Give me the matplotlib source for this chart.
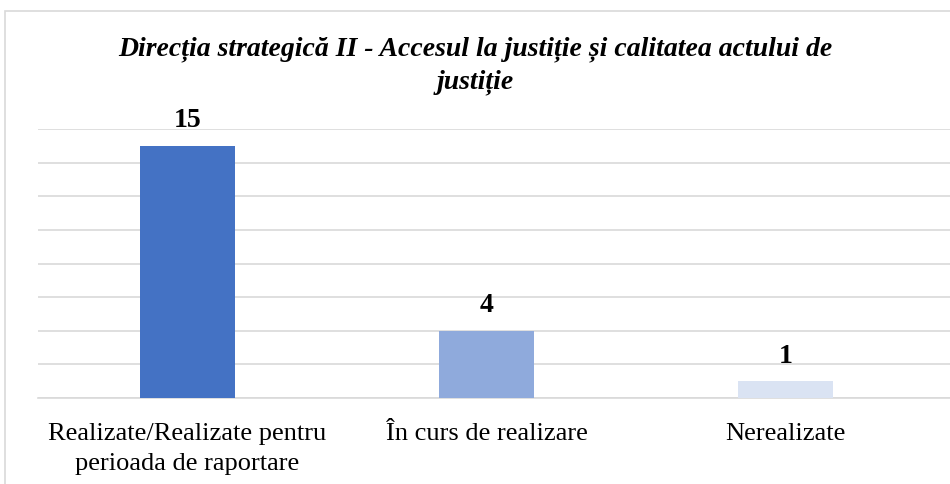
import matplotlib
matplotlib.use("Agg")
import matplotlib.pyplot as plt
from matplotlib.patches import Rectangle

categories = ["Realizate/Realizate pentru\nperioada de raportare", "În curs de realizare", "Nerealizate"]
values = [15, 4, 1]
colors = ["#4472C4", "#8FAADC", "#DAE3F3"]
title = "Direcția strategică II - Accesul la justiție și calitatea actului de\njustiție"

plt.rcParams['font.family'] = ['Liberation Serif', 'DejaVu Serif']

fig = plt.figure(figsize=(9.5, 4.84), dpi=100)
W, H = 950, 484
# outer border (cropped at right and bottom)
fig.patches.append(Rectangle((5/W, -0.1), 1.2, 1.1 - 11/H, transform=fig.transFigure,
                             fill=False, edgecolor="#D9D9D9", linewidth=1.2))

ax_left, ax_right = 38, 950
ax_top, ax_bot = 129, 398
ax = fig.add_axes([ax_left/W, 1 - ax_bot/H, (ax_right-ax_left)/W, (ax_bot-ax_top)/H])

x = list(range(len(categories)))
bars = ax.bar(x, values, width=0.315, color=colors, zorder=3)
ax.set_ylim(0, 16)
ax.set_xlim(-0.5, -0.5 + (ax_right-ax_left)/299)
ax.set_yticks(range(0, 17, 2))
ax.yaxis.grid(True, color="#D9D9D9", linewidth=1.2, zorder=0)
ax.tick_params(axis='y', left=False, labelleft=False)
ax.tick_params(axis='x', length=0, pad=18)
ax.set_xticks(x)
ax.set_xticklabels(categories, fontsize=19, linespacing=1.45)
for s in ["top", "right", "left"]:
    ax.spines[s].set_visible(False)
ax.spines["bottom"].set_color("#D9D9D9")
ax.spines["bottom"].set_linewidth(1.2)

for xi, v in zip(x, values):
    ax.annotate(str(v), (xi, v), xytext=(0, 9), textcoords="offset points",
                ha="center", va="bottom", fontsize=20, fontweight="bold")

fig.text(0.5, 1 - 66/H, title, ha="center", va="center", fontsize=20,
         fontweight="bold", fontstyle="italic", linespacing=1.4)

fig.savefig("out.png", dpi=100)
